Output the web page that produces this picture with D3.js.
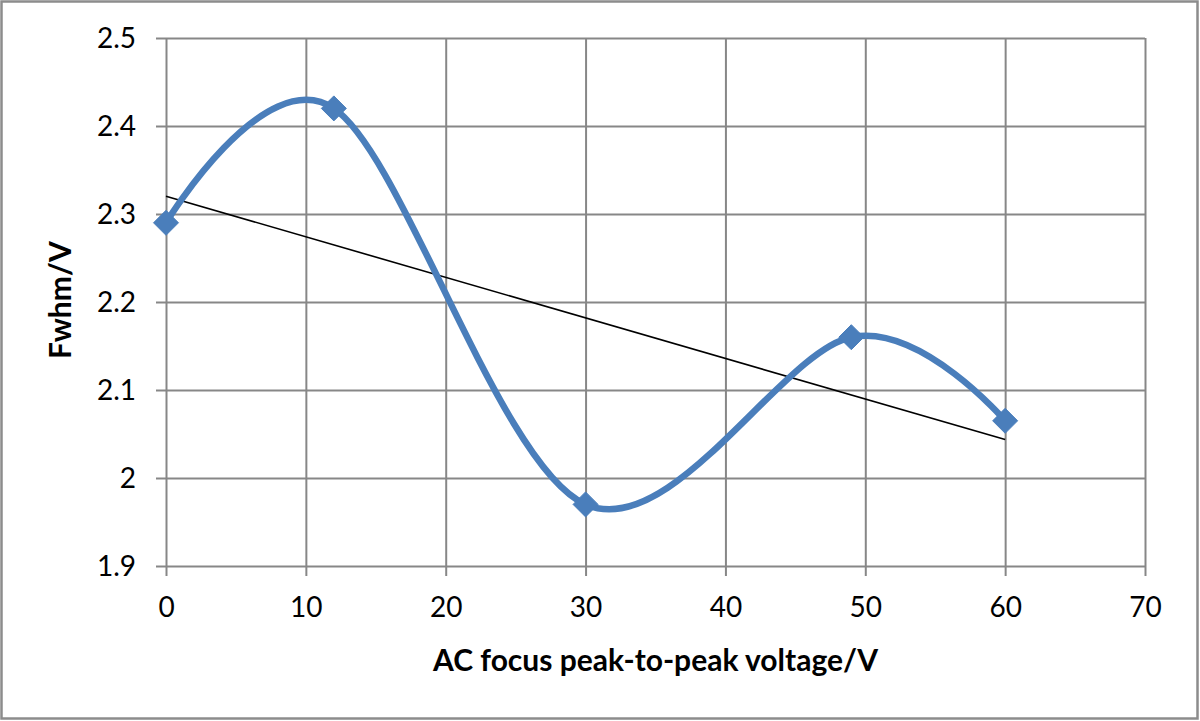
<!DOCTYPE html>
<html>
<head>
<meta charset="utf-8">
<script src="https://cdn.jsdelivr.net/npm/d3@7"></script>
<style>
html,body{margin:0;padding:0;background:#fff;}
svg{display:block;}
text{font-family:Lato,"Open Sans",sans-serif;fill:#000;}
</style>
</head>
<body>
<svg id="chart" width="1200" height="721"></svg>
<script>
// Data
const voltages = [0, 12, 30, 49, 60];
const fwhm = [2.29, 2.42, 1.97, 2.16, 2.065];
const xTicks = [0, 10, 20, 30, 40, 50, 60, 70];
const yTicks = [1.9, 2.0, 2.1, 2.2, 2.3, 2.4, 2.5];
const xTitle = "AC focus peak-to-peak voltage/V";
const yTitle = "Fwhm/V";

const svg = d3.select("#chart");
const W = 1200, H = 721;
const m = {left:166, right:1145, top:38, bottom:566};

svg.append("rect").attr("x",1.5).attr("y",1.5).attr("width",W-4).attr("height",H-4)
  .attr("fill","#fff").attr("stroke","#8c8c8c").attr("stroke-width",2.5);

const x = d3.scaleLinear().domain([0,70]).range([m.left,m.right]);
const y = d3.scaleLinear().domain([1.9,2.5]).range([m.bottom,m.top]);

const gridColor = "#878787";
const tickExt = 10;

// Y axis (gridlines + labels)
const yAxis = d3.axisLeft(y).tickValues(yTicks)
  .tickFormat(d => d3.format("~g")(d))
  .tickSize(-(m.right - m.left + tickExt)).tickPadding(20);
const gy = svg.append("g").attr("transform",`translate(${m.left - tickExt},0)`).call(yAxis);
gy.select(".domain").remove();
gy.selectAll(".tick line").attr("stroke",gridColor).attr("stroke-width",2);
gy.selectAll(".tick text").attr("font-size",28).attr("font-family","Lato").attr("fill","#000").attr("dy","0.34em");

// X axis (gridlines + labels)
const xAxis = d3.axisBottom(x).tickValues(xTicks)
  .tickSize(-(m.bottom - m.top + tickExt)).tickPadding(21);
const gx = svg.append("g").attr("transform",`translate(0,${m.bottom + tickExt})`).call(xAxis);
gx.select(".domain").remove();
gx.selectAll(".tick line").attr("stroke",gridColor).attr("stroke-width",2);
gx.selectAll(".tick text").attr("font-size",28).attr("font-family","Lato").attr("fill","#000");

// Linear trendline (least squares)
const n = voltages.length;
const mx = d3.mean(voltages), my = d3.mean(fwhm);
let sxy = 0, sxx = 0;
for (let i=0;i<n;i++){ sxy += (voltages[i]-mx)*(fwhm[i]-my); sxx += (voltages[i]-mx)**2; }
const slope = sxy/sxx, intercept = my - slope*mx;
const xMin = d3.min(voltages), xMax = d3.max(voltages);
svg.append("line")
  .attr("x1",x(xMin)).attr("y1",y(intercept+slope*xMin))
  .attr("x2",x(xMax)).attr("y2",y(intercept+slope*xMax))
  .attr("stroke","#000").attr("stroke-width",1.6);

// Smoothed series
const pts = voltages.map((v,i)=>[v,fwhm[i]]);
const line = d3.line().x(d=>x(d[0])).y(d=>y(d[1])).curve(d3.curveCardinal.tension(0));
svg.append("path").datum(pts).attr("d",line)
  .attr("fill","none").attr("stroke","#4a7ebb").attr("stroke-width",6.5)
  .attr("stroke-linejoin","round").attr("stroke-linecap","round");

// Diamond markers
const ds = 12.5;
svg.selectAll(".mk").data(pts).join("path").attr("class","mk")
  .attr("d", d => {const cx=x(d[0]), cy=y(d[1]); return `M${cx},${cy-ds}L${cx+ds},${cy}L${cx},${cy+ds}L${cx-ds},${cy}Z`;})
  .attr("fill","#4a7ebb").attr("stroke","#4a7ebb").attr("stroke-width",1);

// Axis titles
svg.append("text").attr("x",(m.left+m.right)/2).attr("y",671)
  .attr("text-anchor","middle").attr("font-size",30).attr("font-weight","bold").text(xTitle);
svg.append("text").attr("transform",`translate(71,300) rotate(-90)`)
  .attr("text-anchor","middle").attr("font-size",30).attr("font-weight","bold").text(yTitle);
</script>
</body>
</html>
